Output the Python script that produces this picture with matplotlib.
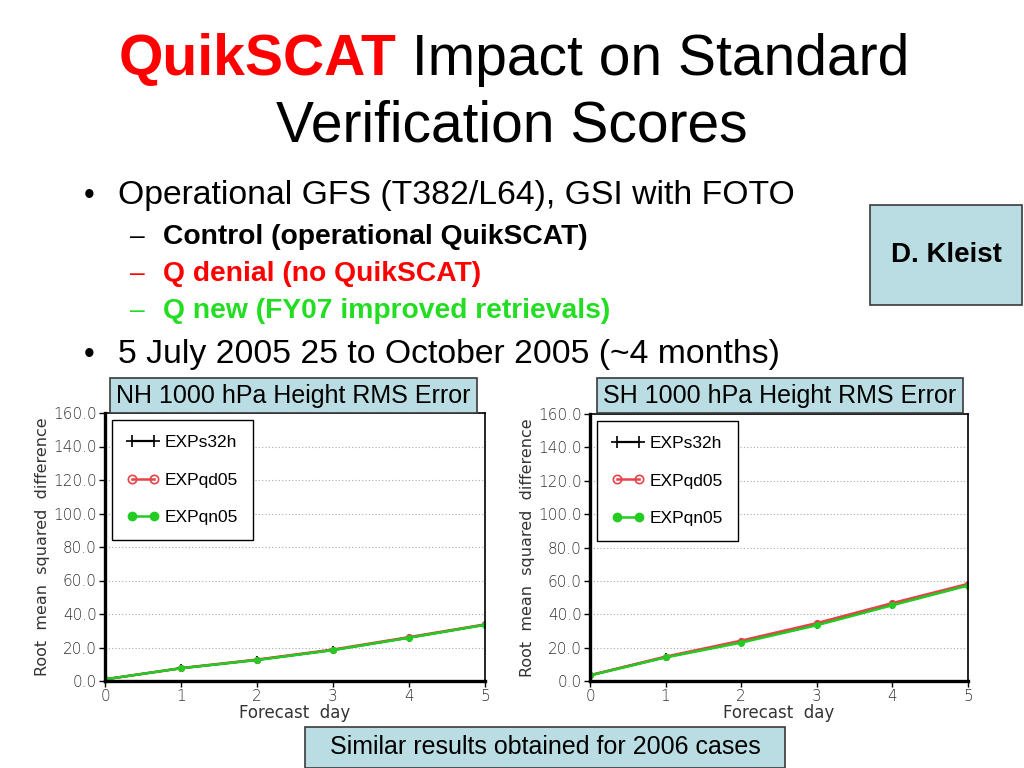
import numpy as np
import matplotlib.pyplot as plt
from matplotlib.patches import Rectangle

# data
days = [0, 1, 2, 3, 4, 5]
nh_s32h = [1.0, 7.6, 12.6, 18.5, 25.9, 33.6]
nh_qd05 = [1.0, 7.7, 12.8, 18.8, 26.2, 33.8]
nh_qn05 = [1.0, 7.6, 12.5, 18.4, 25.8, 33.5]
sh_s32h = [3.4, 14.3, 23.4, 33.8, 45.8, 57.5]
sh_qd05 = [3.5, 14.6, 24.2, 34.7, 46.7, 58.2]
sh_qn05 = [3.3, 14.1, 23.0, 33.4, 45.4, 57.2]
series_names = ['EXPs32h', 'EXPqd05', 'EXPqn05']
yticks = [0, 20, 40, 60, 80, 100, 120, 140, 160]

W, H = 1024, 768
box_fill = '#b9dde2'
box_edge = '#3a3a3a'
sans = ['Liberation Sans', 'DejaVu Sans']

fig = plt.figure(figsize=(W / 100, H / 100), dpi=100)
fig.patch.set_facecolor('white')


def fx(px):
    return px / W


def fy(py):
    return 1 - py / H


def panel(x0, x1, y0, y1, s32, qd, qn):
    ax = fig.add_axes([fx(x0), fy(y1), fx(x1 - x0), fy(y0) - fy(y1)])
    ax.plot(days, s32, color='black', lw=1.6, marker='+', ms=6, mew=1.2, label=series_names[0])
    ax.plot(days, qd, color='#e8424a', lw=1.8, marker='o', ms=4, mfc='none', mew=1.2,
            label=series_names[1])
    ax.plot(days, qn, color='#22cc22', lw=1.8, marker='o', ms=4, label=series_names[2])
    ax.set_xlim(0, 5)
    ax.set_ylim(0, 160)
    ax.set_yticks(yticks)
    ax.set_yticklabels(['%.1f' % v for v in yticks])
    ax.set_xticks(days)
    ax.yaxis.grid(True, ls=(0, (1, 2)), color='#aaaaaa', lw=0.8)
    for s in ax.spines.values():
        s.set_linewidth(1.2)
    ax.spines['left'].set_linewidth(2.4)
    ax.spines['bottom'].set_linewidth(2.4)
    ax.tick_params(direction='out', length=4, width=1, labelsize=11, labelcolor='#333333',
                   pad=2)
    for lab in ax.get_xticklabels() + ax.get_yticklabels():
        lab.set_family(['DejaVu Sans'])
        lab.set_fontweight('light')
    ax.set_xlabel('Forecast  day', fontsize=12, color='#333333', labelpad=0)
    ax.set_ylabel('Root  mean  squared  difference', fontsize=11.5, color='#333333',
                  labelpad=2)
    leg = ax.legend(loc='upper left', bbox_to_anchor=(0.018, 0.974), numpoints=2,
                    fancybox=False, edgecolor='black', framealpha=1, handlelength=1.9,
                    labelspacing=1.3, borderpad=0.85, handletextpad=0.3, borderaxespad=0,
                    markerscale=1.5, prop={'family': sans, 'size': 12.5})
    leg.get_frame().set_linewidth(1.0)
    return ax


panel(105, 485, 413, 681, nh_s32h, nh_qd05, nh_qn05)
panel(590, 968, 414, 681, sh_s32h, sh_qd05, sh_qn05)


def box(x0, y0, x1, y1, text, size, weight='normal'):
    r = Rectangle((fx(x0), fy(y1)), fx(x1 - x0), fy(y0) - fy(y1), transform=fig.transFigure,
                  facecolor=box_fill, edgecolor=box_edge, lw=1.2, zorder=5)
    fig.patches.append(r)
    fig.text(fx((x0 + x1) / 2), fy((y0 + y1) / 2), text, ha='center', va='center',
             fontsize=size, weight=weight, family=sans, zorder=6)


box(110, 378, 477, 413, 'NH 1000 hPa Height RMS Error', 18)
box(597, 378, 963, 413, 'SH 1000 hPa Height RMS Error', 18)
box(870, 205, 1022, 305, 'D. Kleist', 20, 'bold')
box(305, 727, 785, 768, 'Similar results obtained for 2006 cases', 18)

# title, first word in red bold
renderer = fig.canvas.get_renderer()
t1 = fig.text(0, 0, 'QuikSCAT', fontsize=41, weight='bold', family=sans)
t2 = fig.text(0, 0, ' Impact on Standard', fontsize=41, family=sans)
w1 = t1.get_window_extent(renderer).width
w2 = t2.get_window_extent(renderer).width
start = 514 - (w1 + w2) / 2
t1.set_position((fx(start), fy(75)))
t1.set_color('#ff0000')
t2.set_position((fx(start + w1), fy(75)))
fig.text(fx(512), fy(142), 'Verification Scores', fontsize=41, ha='center', family=sans)

# bullets
fig.text(fx(84), fy(204), '•', fontsize=22, family=sans)
fig.text(fx(118), fy(204), 'Operational GFS (T382/L64), GSI with FOTO', fontsize=24.3,
         family=sans)
fig.text(fx(130), fy(244), '–', fontsize=19, family=sans, color='black')
fig.text(fx(163), fy(244), 'Control (operational QuikSCAT)', fontsize=20.3, weight='bold',
         family=sans)
fig.text(fx(130), fy(281), '–', fontsize=19, family=sans, color='#ff0000')
fig.text(fx(163), fy(281), 'Q denial (no QuikSCAT)', fontsize=20.3, weight='bold', family=sans,
         color='#ff0000')
fig.text(fx(130), fy(318), '–', fontsize=19, family=sans, color='#22dd22')
fig.text(fx(163), fy(318), 'Q new (FY07 improved retrievals)', fontsize=20.3, weight='bold',
         family=sans, color='#22dd22')
fig.text(fx(84), fy(363), '•', fontsize=22, family=sans)
fig.text(fx(118), fy(363), '5 July 2005 25 to October 2005 (~4 months)', fontsize=24.3,
         family=sans)

fig.savefig('out.png', dpi=100)
